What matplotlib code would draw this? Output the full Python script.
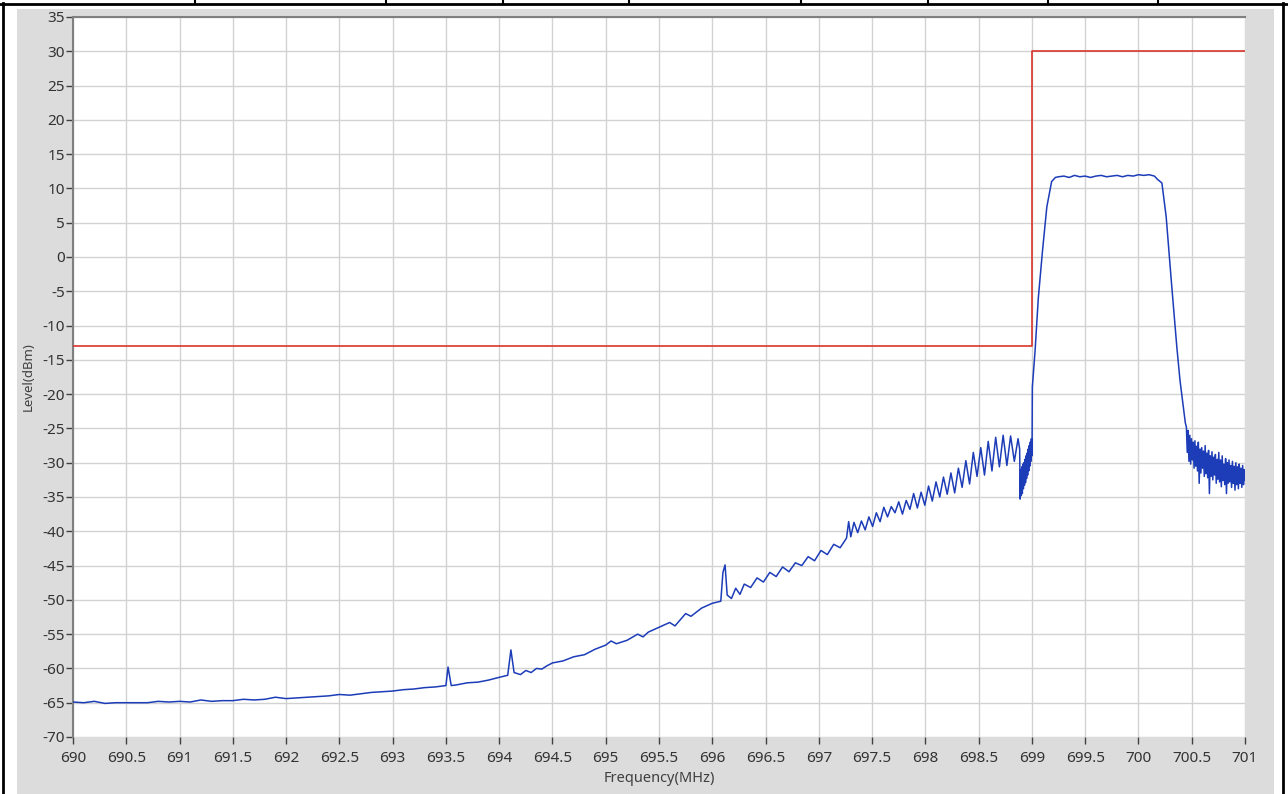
from matplotlib import pyplot as plt
from matplotlib.lines import Line2D
from matplotlib.patches import Rectangle

plt.rcParams["font.family"] = ["Noto Sans", "DejaVu Sans"]
plt.rcParams["axes.unicode_minus"] = False

# Data
freq_mhz = [
    690.0, 690.1, 690.2, 690.3, 690.4, 690.5, 690.6, 690.7, 690.8, 690.9,
    691.0, 691.1, 691.2, 691.3, 691.4, 691.5, 691.6, 691.7, 691.8, 691.9,
    692.0, 692.1, 692.2, 692.3, 692.4, 692.5, 692.6, 692.7, 692.8, 692.9,
    693.0, 693.1, 693.2, 693.3, 693.4, 693.5, 693.52, 693.55, 693.6, 693.7,
    693.8, 693.9, 694.0, 694.08, 694.11, 694.14, 694.2, 694.25, 694.3, 694.35,
    694.4, 694.45, 694.5, 694.6, 694.7, 694.8, 694.9, 695.0, 695.05, 695.1,
    695.2, 695.3, 695.35, 695.4, 695.5, 695.6, 695.65, 695.7, 695.75, 695.8,
    695.9, 696.0, 696.08, 696.1, 696.12, 696.14, 696.18, 696.22, 696.26, 696.3,
    696.36, 696.42, 696.48, 696.54, 696.6, 696.66, 696.72, 696.78, 696.84, 696.9,
    696.96, 697.02, 697.08, 697.14, 697.2, 697.26, 697.28, 697.3,
    697.33, 697.365, 697.4, 697.435, 697.47, 697.505, 697.54, 697.575, 697.61, 697.645,
    697.68, 697.715, 697.75, 697.785, 697.82, 697.855, 697.89, 697.925, 697.96, 697.995,
    698.03, 698.065, 698.1, 698.135, 698.17, 698.205, 698.24, 698.275, 698.31, 698.345,
    698.38, 698.415, 698.45, 698.485, 698.52, 698.555, 698.59, 698.625, 698.66, 698.695,
    698.73, 698.765, 698.8, 698.835, 698.87, 698.885,
    698.89, 698.895, 698.9, 698.905, 698.91, 698.915, 698.92, 698.925, 698.93, 698.935,
    698.94, 698.945, 698.95, 698.955, 698.96, 698.965, 698.97, 698.975, 698.98, 698.985,
    698.99, 698.995, 699.0, 699.002, 699.004,
    699.03, 699.06, 699.1, 699.14, 699.185, 699.22, 699.25, 699.3, 699.35, 699.4,
    699.45, 699.5, 699.55, 699.6, 699.65, 699.7, 699.75, 699.8, 699.85, 699.9,
    699.95, 700.0, 700.05, 700.1, 700.15, 700.18, 700.22, 700.26, 700.31, 700.36,
    700.39, 700.44,
    700.45, 700.458, 700.466, 700.474, 700.482, 700.49, 700.498, 700.506, 700.514, 700.522,
    700.53, 700.538, 700.546, 700.554, 700.562, 700.57, 700.578, 700.586, 700.594, 700.602,
    700.61, 700.618, 700.626, 700.634, 700.642, 700.65, 700.658, 700.666, 700.674, 700.682,
    700.69, 700.698, 700.706, 700.714, 700.722, 700.73, 700.738, 700.746, 700.754, 700.762,
    700.77, 700.778, 700.786, 700.794, 700.802, 700.81, 700.818, 700.826, 700.834, 700.842,
    700.85, 700.858, 700.866, 700.874, 700.882, 700.89, 700.898, 700.906, 700.914, 700.922,
    700.93, 700.938, 700.946, 700.954, 700.962, 700.97, 700.978, 700.986, 700.994, 701.0,
]

level_dbm = [
    -64.9, -65.0, -64.8, -65.1, -65.0, -65.0, -65.0, -65.0, -64.8, -64.9,
    -64.8, -64.9, -64.6, -64.8, -64.7, -64.7, -64.5, -64.6, -64.5, -64.2,
    -64.4, -64.3, -64.2, -64.1, -64.0, -63.8, -63.9, -63.7, -63.5, -63.4,
    -63.3, -63.1, -63.0, -62.8, -62.7, -62.5, -59.8, -62.5, -62.4, -62.1,
    -62.0, -61.7, -61.3, -61.0, -57.3, -60.6, -60.9, -60.3, -60.6, -60.0,
    -60.1, -59.6, -59.2, -58.9, -58.3, -58.0, -57.2, -56.6, -56.0, -56.4,
    -55.9, -55.0, -55.4, -54.7, -54.0, -53.3, -53.8, -52.9, -52.0, -52.4,
    -51.2, -50.5, -50.2, -46.0, -44.9, -49.3, -49.8, -48.3, -49.2, -47.7,
    -48.2, -46.8, -47.4, -46.0, -46.6, -45.2, -45.9, -44.6, -45.0, -43.7,
    -44.3, -42.8, -43.4, -41.9, -42.4, -41.0, -38.6, -40.8,
    -38.7, -40.2, -38.5, -39.8, -37.9, -39.3, -37.3, -38.6, -36.5, -37.9,
    -36.4, -37.3, -35.7, -37.5, -35.5, -36.8, -34.5, -36.6, -34.3, -36.2,
    -33.4, -35.6, -32.8, -35.0, -32.1, -34.6, -31.5, -34.4, -30.8, -33.6,
    -29.7, -33.1, -28.5, -32.0, -27.8, -31.8, -26.9, -31.2, -26.3, -30.6,
    -26.0, -30.4, -26.1, -29.8, -26.5, -28.0,
    -35.3, -31.0, -34.8, -30.6, -34.5, -30.2, -33.8, -30.0, -33.3, -29.5,
    -32.9, -29.0, -32.3, -28.6, -31.8, -28.0, -31.2, -27.5, -30.5, -27.0,
    -29.8, -26.5, -29.0, -26.0, -19.0,
    -13.6, -6.0, 1.0, 7.3, 11.0, 11.6, 11.7, 11.8, 11.6, 11.9,
    11.7, 11.8, 11.6, 11.8, 11.9, 11.7, 11.8, 11.9, 11.7, 11.9,
    11.8, 12.0, 11.9, 12.0, 11.8, 11.3, 10.8, 5.9, -3.8, -13.1,
    -18.0, -24.2,
    -24.8, -28.5, -25.3, -29.8, -26.0, -30.2, -26.5, -29.6, -27.0, -30.8,
    -26.8, -30.5, -27.6, -31.2, -27.0, -33.0, -28.0, -31.5, -27.8, -30.8,
    -28.3, -32.0, -27.5, -31.6, -28.6, -32.2, -28.2, -34.5, -29.0, -32.0,
    -28.4, -32.5, -29.2, -31.8, -28.8, -33.0, -29.5, -32.4, -28.5, -32.8,
    -29.6, -33.5, -29.0, -32.6, -30.2, -33.2, -29.4, -34.5, -30.0, -33.0,
    -29.6, -32.8, -30.4, -33.6, -29.8, -33.0, -30.5, -34.0, -30.0, -33.2,
    -30.6, -33.8, -30.2, -33.0, -30.8, -33.6, -30.4, -33.2, -31.0, -32.5,
]

# limit mask (step)
limit_freq = [690.0, 699.0, 699.0, 701.0]
limit_level = [-13.0, -13.0, 30.0, 30.0]

x_ticks = [690 + 0.5 * i for i in range(23)]
y_ticks = list(range(-70, 40, 5))

W, H = 1288, 794
fig = plt.figure(figsize=(W / 100, H / 100), dpi=100)
fig.patch.set_facecolor("white")

# gray panel + black frame lines (pixel coords, origin top-left)
def px(x, y):
    return x / W, 1 - y / H

x0, y0 = px(17, 794)
x1, y1 = px(1274, 9)
fig.add_artist(Rectangle((x0, y0), x1 - x0, y1 - y0, transform=fig.transFigure,
                         facecolor="#dcdcdc", edgecolor="none", zorder=0))
for seg in [((0, 3.5), (1288, 3.5)), ((2.5, 3), (2.5, 794)), ((1283, 3), (1283, 794))]:
    (a, b), (c, d) = px(*seg[0]), px(*seg[1])
    fig.add_artist(Line2D([a, c], [b, d], transform=fig.transFigure, color="black", lw=2))
for xc in [195, 386, 503, 629, 801, 928, 1048, 1158]:
    (a, b), (c, d) = px(xc, 0), px(xc, 4)
    fig.add_artist(Line2D([a, c], [b, d], transform=fig.transFigure, color="black", lw=1.5))

ax = fig.add_axes([73 / W, 57 / H, 1172 / W, 720 / H])
ax.set_facecolor("white")

ax.plot(limit_freq, limit_level, color="#d8352a", linewidth=1.2, zorder=3)
ax.plot(freq_mhz, level_dbm, color="#1c3cb8", linewidth=1.1, zorder=4)

ax.set_xlim(690, 701)
ax.set_ylim(-70, 35)
ax.set_xticks(x_ticks)
ax.set_xticklabels([f"{v:g}" for v in x_ticks])
ax.set_yticks(y_ticks)
ax.grid(True, color="#d2d2d2", linewidth=1)
ax.set_axisbelow(True)

for side in ["right", "bottom"]:
    ax.spines[side].set_visible(False)
for side in ["left", "top"]:
    ax.spines[side].set_color("#808080")
    ax.spines[side].set_linewidth(1.5)

ax.tick_params(axis="both", direction="out", length=5, width=1, color="#404040",
               labelsize=11, labelcolor="#333333")
ax.tick_params(axis="y", pad=1)
ax.tick_params(axis="x", pad=5)

ax.set_xlabel("Frequency(MHz)", fontsize=10.5, color="#404040", labelpad=4)
ax.set_ylabel("Level(dBm)", fontsize=9.5, color="#404040", labelpad=5)

plt.savefig("out.png", dpi=100)
